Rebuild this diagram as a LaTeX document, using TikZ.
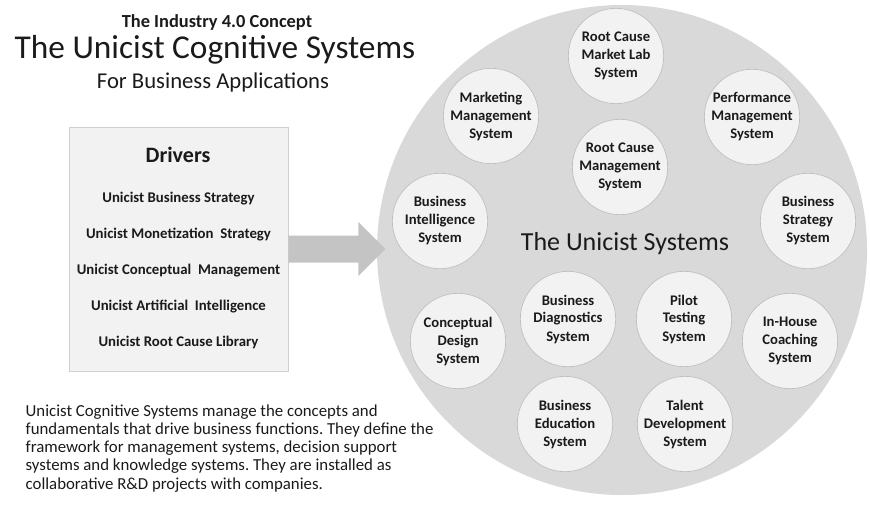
\documentclass[tikz,border=0pt]{standalone}
\usepackage{fontspec}
\setmainfont{Carlito}
\frenchspacing
\definecolor{hubfill}{HTML}{D9D9D9}
\definecolor{sysfill}{HTML}{F2F2F2}
\definecolor{sysline}{HTML}{BFBFBF}
\definecolor{boxfill}{HTML}{F2F2F2}
\definecolor{boxline}{HTML}{D0D0D0}
\definecolor{arrowfill}{HTML}{C4C4C4}
\definecolor{ink}{HTML}{1A1A1A}
\begin{document}
\begin{tikzpicture}[x=0.75pt,y=-0.75pt,
  every node/.style={text=ink},
  sys/.style={circle, draw=sysline, line width=0.5pt, fill=sysfill,
    minimum size=71.5pt, inner sep=0pt, align=center,
    font=\bfseries\fontsize{11}{13.5}\selectfont},
  driver/.style={anchor=base, font=\bfseries\fontsize{11.1}{13}\selectfont},
  para/.style={anchor=base west, font=\fontsize{12.6}{13.7}\selectfont},
]
\useasboundingbox (0,0) rectangle (870,504);

% headings
\node[anchor=base, font=\bfseries\fontsize{13.8}{16}\selectfont] (kicker) at (217,27) {The Industry 4.0 Concept};
\node[anchor=base, font=\fontsize{25}{28}\selectfont] (title) at (215,58) {The Unicist Cognitive Systems};
\node[anchor=base, font=\fontsize{17}{20}\selectfont] (subtitle) at (213,88) {For Business Applications};

% drivers panel
\node[draw=boxline, fill=boxfill, line width=0.6pt, minimum width=164.25pt, minimum height=183pt, inner sep=0pt] (drivers) at (178.5,249) {};
\node[anchor=base, font=\bfseries\fontsize{16.5}{19}\selectfont] (drvhead) at (178,162) {Drivers};
\node[driver] (d1) at (178.5,202) {Unicist Business Strategy};
\node[driver] (d2) at (178.5,238) {Unicist Monetization\ \ Strategy};
\node[driver] (d3) at (178.5,274) {Unicist Conceptual\ \ Management};
\node[driver] (d4) at (178.5,310) {Unicist Artificial\ \ Intelligence};
\node[driver] (d5) at (178.5,346) {Unicist Root Cause Library};

% the systems disc
\node[circle, fill=hubfill, minimum size=367.5pt, inner sep=0pt] (hub) at (622,250) {};
\node[font=\fontsize{19.5}{22}\selectfont] (hublabel) at (625,244) {The Unicist Systems};

% block arrow from the panel into the disc
\fill[arrowfill] (drivers.east) ++(0,-13.5) -- ++(70,0) -- ++(0,-13.5)
  -- ++(27,27) -- ++(-27,27) -- ++(0,-13.5) -- ++(-70,0) -- cycle;

% systems
\node[sys] (marketlab)   at (616,56)  {Root Cause\\Market Lab\\System};
\node[sys] (marketing)   at (491,116) {Marketing\\Management\\System};
\node[sys] (performance) at (752,117) {Performance\\Management\\System};
\node[sys] (rootcause)   at (620,167) {Root Cause\\Management\\System};
\node[sys] (intel)       at (440,221) {Business\\Intelligence\\System};
\node[sys] (strategy)    at (808,221) {Business\\Strategy\\System};
\node[sys] (concept)     at (458,341) {Conceptual\\Design\\System};
\node[sys] (diagnostics) at (568,319) {Business\\Diagnostics\\System};
\node[sys] (pilot)       at (684,319) {Pilot\\Testing\\System};
\node[sys] (coaching)    at (790,341) {In-House\\Coaching\\System};
\node[sys] (education)   at (565,424) {Business\\Education\\System};
\node[sys] (talent)      at (685,424) {Talent\\Development\\System};

% description
\node[para] (p1) at (21,416) {Unicist Cognitive Systems manage the concepts and};
\node[para] (p2) at (21,434.25) {fundamentals that drive business functions. They define the};
\node[para] (p3) at (21,452.5) {framework for management systems, decision support};
\node[para] (p4) at (21,470.75) {systems and knowledge systems. They are installed as};
\node[para] (p5) at (21,489) {collaborative R\&D projects with companies.};
\end{tikzpicture}
\end{document}
